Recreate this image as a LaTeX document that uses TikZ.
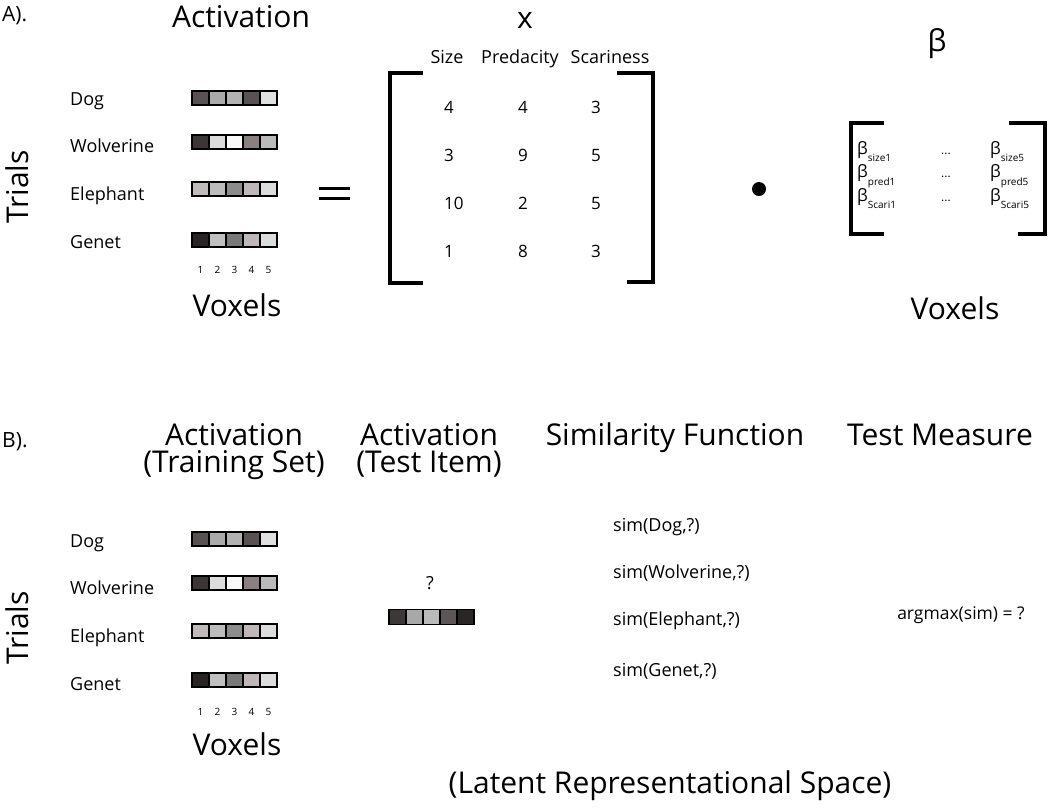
\documentclass[tikz,border=0pt]{standalone}
\usepackage{fontspec}
\setmainfont{Open Sans}
\definecolor{dA}{HTML}{5A5252}
\definecolor{dB}{HTML}{AAAAAA}
\definecolor{dC}{HTML}{B2B2B2}
\definecolor{dD}{HTML}{5A5252}
\definecolor{dE}{HTML}{E0E0E0}
\definecolor{wA}{HTML}{3C3636}
\definecolor{wB}{HTML}{DCDCDC}
\definecolor{wC}{HTML}{FAFAFA}
\definecolor{wD}{HTML}{8A8080}
\definecolor{wE}{HTML}{BABABA}
\definecolor{eA}{HTML}{C0BABA}
\definecolor{eB}{HTML}{BCBCBC}
\definecolor{eC}{HTML}{8C8C8C}
\definecolor{eD}{HTML}{C0B8B8}
\definecolor{eE}{HTML}{DCDCDC}
\definecolor{gA}{HTML}{282424}
\definecolor{gB}{HTML}{C0C0C0}
\definecolor{gC}{HTML}{7A7A7A}
\definecolor{gD}{HTML}{C0B8B8}
\definecolor{gE}{HTML}{DCDCDC}
\definecolor{tA}{HTML}{3C3838}
\definecolor{tB}{HTML}{A8A8A8}
\definecolor{tC}{HTML}{BABABA}
\definecolor{tD}{HTML}{5E5656}
\definecolor{tE}{HTML}{2A2626}
\newcommand\fs[1]{\fontsize{#1}{#1}\selectfont}
\newcommand\voxrow[9]{% prefix, xleft, ycenter, height, 5 colours
  \foreach \col [count=\i] in {#5,#6,#7,#8,#9}
    \node[cell, minimum height=#4pt, fill=\col] (#1\i) at ({#2+8.5+17*(\i-1)}, #3) {};}
\newcommand\bsub[1]{\raisebox{-0.45em}{\fs{10}#1}}
\tikzset{
  txt/.style={inner sep=0pt, text depth=0pt},
  big/.style={txt, font=\fs{30}, text height=21.4pt},
  twoline/.style={inner sep=0pt, align=center, anchor=north, font=\fontsize{30}{27.5}\selectfont},
  lab/.style={txt, font=\fs{18}, text height=12.85pt, anchor=west},
  num/.style={txt, font=\fs{17}, text height=12.1pt},
  tiny/.style={txt, font=\fs{10}, text height=7.1pt},
  cell/.style={draw=black, line width=1.3pt, minimum width=17pt, inner sep=0pt, outer sep=0pt},
  brk/.style={line width=3.6pt, line cap=butt, line join=miter},
}
\begin{document}
\begin{tikzpicture}[x=1pt,y=-1pt]
\useasboundingbox (0,0) rectangle (1050,807);
% ---------- Part A ----------
\node[txt, font=\fs{21}, text height=15pt, anchor=west] (labA) at (2,14) {A).};
\node[big] (actA) at (241,17) {Activation};
\node[big, rotate=90] (trialsA) at (18,187) {Trials};
\node[lab] (dogA) at (70,99) {Dog};
\node[lab] (wolA) at (70,146) {Wolverine};
\node[lab] (eleA) at (70,194) {Elephant};
\node[lab] (genA) at (70,242) {Genet};
\voxrow{da}{192}{98}{14}{dA}{dB}{dC}{dD}{dE}
\voxrow{wa}{192}{142}{14}{wA}{wB}{wC}{wD}{wE}
\voxrow{ea}{192}{189}{14}{eA}{eB}{eC}{eD}{eE}
\voxrow{ga}{192}{240}{14}{gA}{gB}{gC}{gD}{gE}
\foreach \i in {1,...,5} \node[tiny] (na\i) at ({192+8.5+17*(\i-1)},270) {\i};
\node[big] (voxA) at (237,306) {Voxels};
% equals
\draw[line width=3pt] (319,188) -- (350,188);
\draw[line width=3pt] (319,198) -- (350,198);
% X matrix
\node[big, text height=16pt] (xlab) at (525,20) {x};
\node[num, font=\fs{18}, text height=12.85pt] (hsize) at (447,57) {Size};
\node[num, font=\fs{18}, text height=12.85pt] (hpred) at (520,57) {Predacity};
\node[num, font=\fs{18}, text height=12.85pt] (hscar) at (610,57) {Scariness};
\draw[brk] (423,73) -- (390,73) -- (390,283) -- (423,283);
\draw[brk] (617,73) -- (653,73) -- (653,282) -- (627,282);
\foreach \a/\b/\c [count=\r] in {4/4/3,3/9/5,10/2/5,1/8/3}{
  \node[num, anchor=west] (m\r a) at (444,{107+48*(\r-1)}) {\a};
  \node[num] (m\r b) at (523,{107+48*(\r-1)}) {\b};
  \node[num] (m\r c) at (596,{107+48*(\r-1)}) {\c};
}
% dot
\fill (759,189) circle (7);
% beta matrix
\node[big, text height=15.6pt] (betalab) at (937,44) {β};
\draw[brk, line width=4pt] (884,123) -- (851,123) -- (851,234) -- (884,234);
\draw[brk, line width=4pt] (1009,123) -- (1045,123) -- (1045,234) -- (1018,234);
\foreach \s/\t [count=\r] in {size1/size5,pred1/pred5,Scari1/Scari5}{
  \node[num, anchor=west] (bl\r) at (857,{148+23.5*(\r-1)}) {β\bsub{\s}};
  \node[num] (bm\r) at (946,{148+23.5*(\r-1)}) {\fs{12}...};
  \node[num, anchor=west] (br\r) at (990,{148+23.5*(\r-1)}) {β\bsub{\t}};
}
\node[big] (voxR) at (955,309) {Voxels};
% ---------- Part B ----------
\node[txt, font=\fs{21}, text height=15pt, anchor=west] (labB) at (2,440) {B).};
\node[twoline] (actB) at (234,423) {Activation\\(Training Set)};
\node[twoline] (actT) at (429,423) {Activation\\(Test Item)};
\node[big] (simf) at (675,435) {Similarity Function};
\node[big] (testm) at (940,435) {Test Measure};
\node[big, rotate=90] (trialsB) at (18,628) {Trials};
\node[lab] (dogB) at (70,541) {Dog};
\node[lab] (wolB) at (70,588) {Wolverine};
\node[lab] (eleB) at (70,636) {Elephant};
\node[lab] (genB) at (70,684) {Genet};
\voxrow{db}{192}{539}{14}{dA}{dB}{dC}{dD}{dE}
\voxrow{wb}{192}{583}{14}{wA}{wB}{wC}{wD}{wE}
\voxrow{eb}{192}{631}{14}{eA}{eB}{eC}{eD}{eE}
\voxrow{gb}{192}{680}{14}{gA}{gB}{gC}{gD}{gE}
\foreach \i in {1,...,5} \node[tiny] (nb\i) at ({192+8.5+17*(\i-1)},712) {\i};
\node[big] (voxB) at (237,745) {Voxels};
\node[num, font=\fs{18}, text height=12.85pt] (qmark) at (430,583) {?};
\voxrow{tb}{389}{617}{15}{tA}{tB}{tC}{tD}{tE}
\node[lab] (s1) at (613,525) {sim(Dog,?)};
\node[lab] (s2) at (613,572) {sim(Wolverine,?)};
\node[lab] (s3) at (613,619) {sim(Elephant,?)};
\node[lab] (s4) at (613,670) {sim(Genet,?)};
\node[num, font=\fs{17.5}, text height=12.5pt] (argm) at (961,613) {argmax(sim) = ?};
\node[big] (latent) at (670,783) {(Latent Representational Space)};
\end{tikzpicture}
\end{document}
